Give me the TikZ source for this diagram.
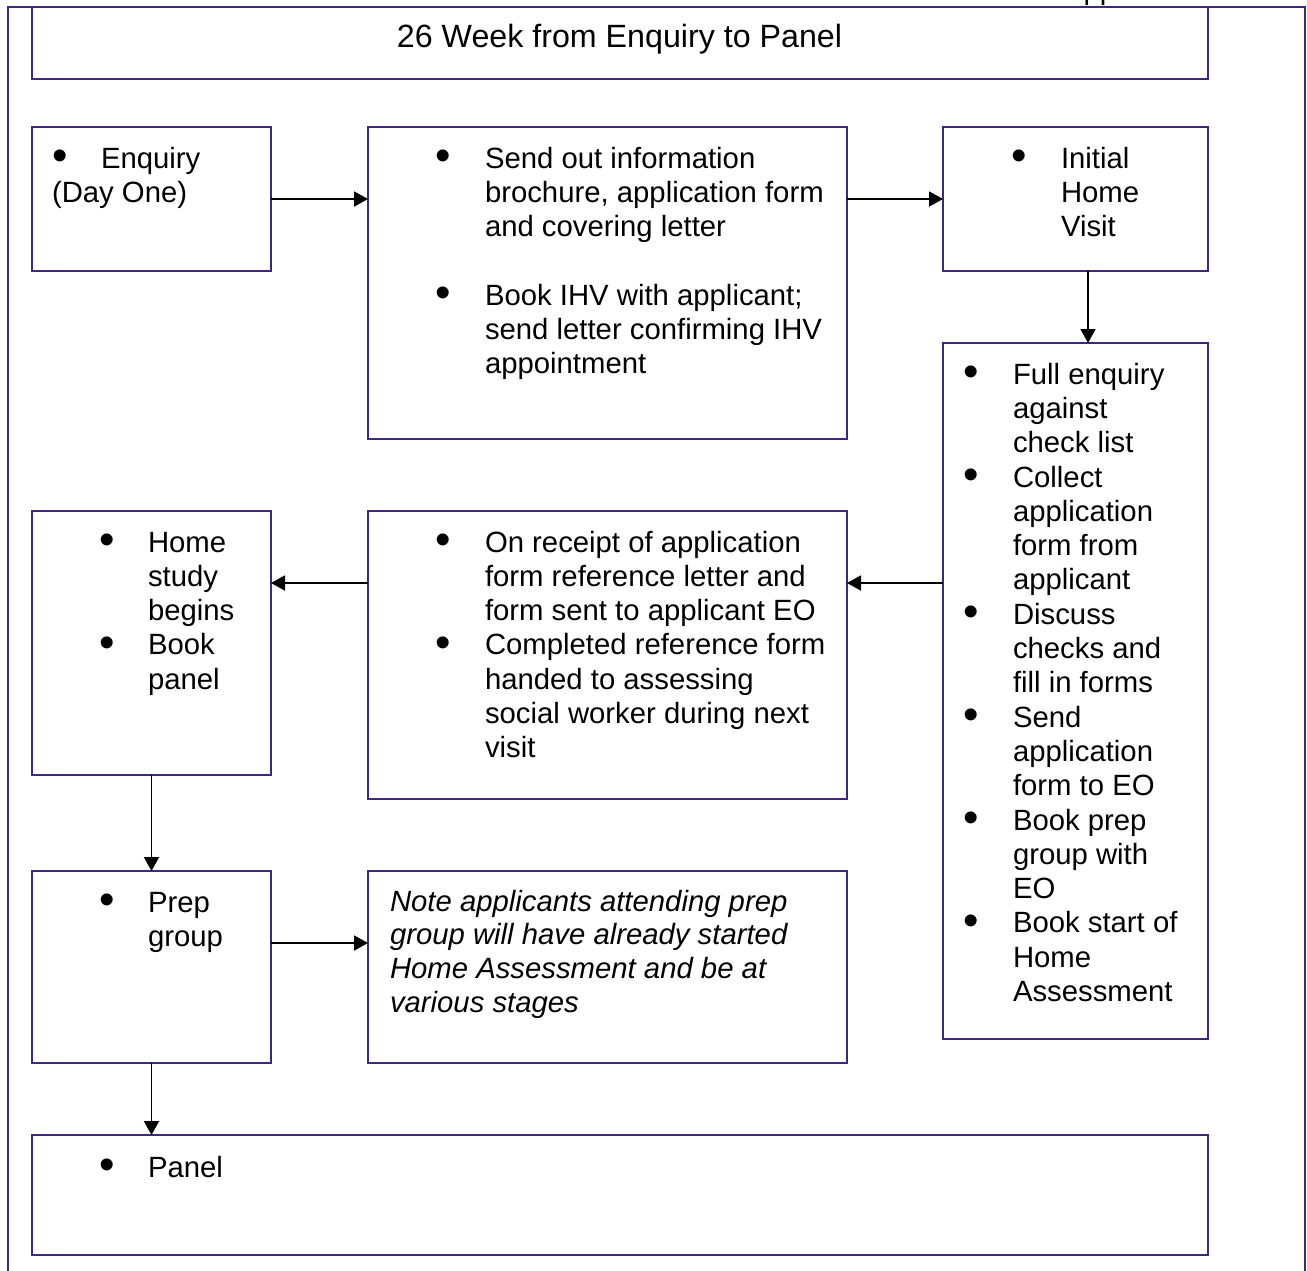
\documentclass[tikz,border=0pt]{standalone}
\usepackage{fontspec}
\setmainfont{Liberation Sans}
\usetikzlibrary{arrows.meta}
\definecolor{frame}{RGB}{62,38,132}
\begin{document}
\begin{tikzpicture}[x=1pt,y=-1pt,
  box/.style={draw=frame, line width=2.4pt, rectangle, inner sep=0pt, outer sep=0pt, anchor=north west},
  txt/.style={font=\fontsize{29.3}{34.3}\selectfont, inner sep=0pt, outer sep=0pt, anchor=base west, align=left},
  bul/.style={font=\fontsize{44}{44}\selectfont, inner sep=0pt, outer sep=0pt, anchor=center, yshift=-1pt},
  arr/.style={line width=1.9pt, -{Triangle[length=14pt,width=15pt]}}]
\useasboundingbox (0,0) rectangle (1307,1270);
\clip (0,0) rectangle (1307,1270);
\fill[white] (0,0) rectangle (1307,1270);
% cut-off header
\node[txt] (appx) at (1064,-0.3) {Appendix};
% outer frame
\draw[frame, line width=2.4pt] (8,1285) -- (8,7) -- (1305,7) -- (1305,1285);
% boxes
\node[box, minimum width=1176pt, minimum height=72pt] (title) at (32,7) {};
\node[box, minimum width=239pt, minimum height=144pt] (enq) at (32,127) {};
\node[box, minimum width=479pt, minimum height=312pt] (send) at (368,127) {};
\node[box, minimum width=265pt, minimum height=144pt] (ihv) at (943,127) {};
\node[box, minimum width=265pt, minimum height=696pt] (full) at (943,343) {};
\node[box, minimum width=239pt, minimum height=264pt] (home) at (32,511) {};
\node[box, minimum width=479pt, minimum height=288pt] (recv) at (368,511) {};
\node[box, minimum width=239pt, minimum height=192pt] (prep) at (32,871) {};
\node[box, minimum width=479pt, minimum height=192pt] (note) at (368,871) {};
\node[box, minimum width=1176pt, minimum height=120pt] (panel) at (32,1135) {};
% title
\node[txt, anchor=base, font=\fontsize{32.2}{36}\selectfont] (titletxt) at (619.5,47) {26 Week from Enquiry to Panel};
% enquiry
\node[bul] (b1) at (60,159) {•};
\node[txt] (t1) at (101,168) {Enquiry};
\node[txt] (t1b) at (52,202) {(Day One)};
% send
\node[bul] (b2) at (443,159) {•};
\node[txt] (t2) at (485,236.6) {Send out information\\brochure, application form\\and covering letter};
\node[bul] (b3) at (443,296) {•};
\node[txt] (t3) at (485,373.6) {Book IHV with applicant;\\send letter confirming IHV\\appointment};
% ihv
\node[bul] (b4) at (1019,159) {•};
\node[txt] (t4) at (1061,236.6) {Initial\\Home\\Visit};
% full enquiry
\node[bul] (b5) at (971,375) {•};
\node[txt] (t5) at (1013,452.6) {Full enquiry\\against\\check list};
\node[bul] (b6) at (971,478) {•};
\node[txt] (t6) at (1013,589.9) {Collect\\application\\form from\\applicant};
\node[bul] (b7) at (971,615.2) {•};
\node[txt] (t7) at (1013,692.8) {Discuss\\checks and\\fill in forms};
\node[bul] (b8) at (971,718.1) {•};
\node[txt] (t8) at (1013,795.7) {Send\\application\\form to EO};
\node[bul] (b9) at (971,821) {•};
\node[txt] (t9) at (1013,898.6) {Book prep\\group with\\EO};
\node[bul] (b10) at (971,923.9) {•};
\node[txt] (t10) at (1013,1001.5) {Book start of\\Home\\Assessment};
% home study
\node[bul] (b11) at (107,543) {•};
\node[txt] (t11) at (148,620.6) {Home\\study\\begins};
\node[bul] (b12) at (107,645.9) {•};
\node[txt] (t12) at (148,689.2) {Book\\panel};
% on receipt
\node[bul] (b13) at (443,543) {•};
\node[txt] (t13) at (485,620.6) {On receipt of application\\form reference letter and\\form sent to applicant EO};
\node[bul] (b14) at (443,645.9) {•};
\node[txt] (t14) at (485,757.8) {Completed reference form\\handed to assessing\\social worker during next\\visit};
% prep group
\node[bul] (b15) at (107,903) {•};
\node[txt] (t15) at (148,946.3) {Prep\\group};
% note
\node[txt, font=\fontsize{29.3}{33.8}\selectfont\itshape] (t16) at (390,1012.4) {Note applicants attending prep\\group will have already started\\Home Assessment and be at\\various stages};
% panel
\node[bul] (b17) at (107,1168) {•};
\node[txt] (t17) at (148,1177) {Panel};
% connectors
\draw[arr] (enq.east) -- (enq.east -| send.west);
\draw[arr] (send.east |- ihv.west) -- (ihv.west);
\draw[arr] ([xshift=12.5pt]ihv.south) -- ([xshift=12.5pt]ihv.south |- full.north);
\draw[arr] (full.west |- 0,583) -- (recv.east |- 0,583);
\draw[arr] (recv.west |- 0,583) -- (home.east |- 0,583);
\draw[arr] (home.south) -- (prep.north);
\draw[arr] (prep.east |- 0,943) -- (note.west |- 0,943);
\draw[arr] (prep.south) -- (prep.south |- panel.north);
\end{tikzpicture}
\end{document}
